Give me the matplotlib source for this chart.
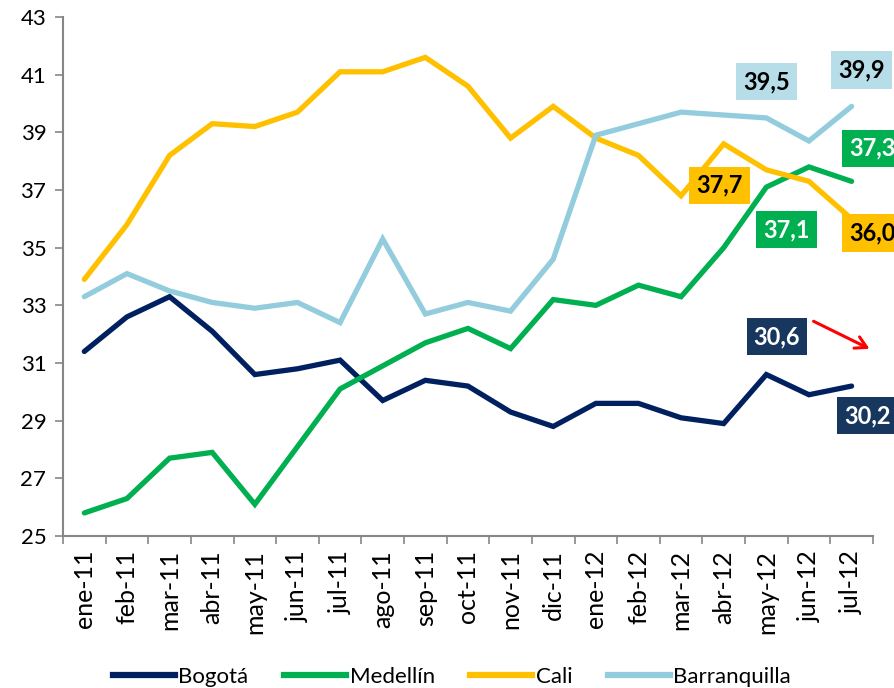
import matplotlib
matplotlib.use("Agg")
import matplotlib.pyplot as plt
from matplotlib.lines import Line2D

plt.rcParams['font.family'] = ['Lato', 'DejaVu Sans']

# monthly series (%), ene-11 .. jul-12
meses = ["ene-11", "feb-11", "mar-11", "abr-11", "may-11", "jun-11", "jul-11",
         "ago-11", "sep-11", "oct-11", "nov-11", "dic-11", "ene-12", "feb-12",
         "mar-12", "abr-12", "may-12", "jun-12", "jul-12"]

bogota = [31.4, 32.6, 33.3, 32.1, 30.6, 30.8, 31.1, 29.7, 30.4, 30.2, 29.3,
          28.8, 29.6, 29.6, 29.1, 28.9, 30.6, 29.9, 30.2]
medellin = [25.8, 26.3, 27.7, 27.9, 26.1, 28.1, 30.1, 30.9, 31.7, 32.2, 31.5,
            33.2, 33.0, 33.7, 33.3, 35.0, 37.1, 37.8, 37.3]
cali = [33.9, 35.8, 38.2, 39.3, 39.2, 39.7, 41.1, 41.1, 41.6, 40.6, 38.8,
        39.9, 38.8, 38.2, 36.8, 38.6, 37.7, 37.3, 36.0]
barranquilla = [33.3, 34.1, 33.5, 33.1, 32.9, 33.1, 32.4, 35.3, 32.7, 33.1,
                32.8, 34.6, 38.9, 39.3, 39.7, 39.6, 39.5, 38.7, 39.9]

nombres = ["Bogotá", "Medellín", "Cali", "Barranquilla"]
colores = ["#002060", "#00B050", "#FFC000", "#93CDDD"]

# value labels: (text, x index, y position, box colour, text colour)
etiquetas = [
    ("39,5", 16.0, 40.75, "#B7DEE8", "black"),
    ("39,9", 18.24, 41.16, "#B7DEE8", "black"),
    ("37,3", 18.48, 38.45, "#00B050", "white"),
    ("37,7", 14.9, 37.16, "#FFC000", "black"),
    ("37,1", 16.48, 35.63, "#00B050", "white"),
    ("36,0", 18.48, 35.51, "#FFC000", "black"),
    ("30,6", 16.25, 31.92, "#17375E", "white"),
    ("30,2", 18.38, 29.18, "#17375E", "white"),
]

fig = plt.figure(figsize=(8.95, 6.88), dpi=100)
ax = fig.add_axes([0.0704, 0.2209, 0.9049, 0.7544])

x = list(range(len(meses)))
for serie, c in zip([bogota, medellin, cali, barranquilla], colores):
    ax.plot(x, serie, color=c, lw=3.8, solid_capstyle="round", solid_joinstyle="miter")

ax.set_xlim(-0.5, len(meses) - 0.5)
ax.set_ylim(25, 43)
ax.set_yticks(range(25, 44, 2))
ax.set_xticks(x)
ax.set_xticklabels(meses, rotation=90, fontsize=18)
ax.set_xticks([i - 0.5 for i in range(len(meses) + 1)], minor=True)
ax.tick_params(axis="x", which="major", length=0, pad=10)
ax.tick_params(axis="x", which="minor", length=6, width=1.2, color="#868686", direction="out")
ax.tick_params(axis="y", length=6, width=1.2, color="#868686", labelsize=16, pad=6)

for s in ["top", "right"]:
    ax.spines[s].set_visible(False)
for s in ["left", "bottom"]:
    ax.spines[s].set_color("#868686")
    ax.spines[s].set_linewidth(1.5)

for txt, xi, yv, bc, tc in etiquetas:
    ax.text(xi, yv, txt, ha="center", va="center", fontsize=17, fontweight="bold",
            color=tc, clip_on=False,
            bbox=dict(boxstyle="square,pad=0.3", fc=bc, ec="none"))

ax.annotate("", xy=(18.48, 31.45), xytext=(17.05, 32.49),
            arrowprops=dict(arrowstyle="->,head_length=0.8,head_width=0.45",
                            color="red", lw=2.2), annotation_clip=False)

handles = [Line2D([], [], color=c, lw=4.5) for c in colores]
fig.legend(handles, nombres, loc="center", bbox_to_anchor=(0.505, 0.016),
           ncol=4, frameon=False, fontsize=16, handlelength=2.8,
           handletextpad=0.15, columnspacing=1.6)

fig.savefig("out.png", dpi=100)
